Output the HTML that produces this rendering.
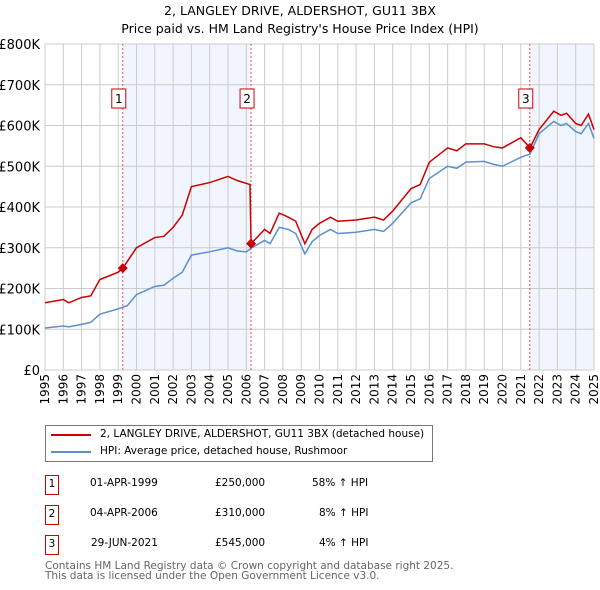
<!DOCTYPE html>
<html><head><meta charset="utf-8"><style>
body{margin:0;background:#fff;font-family:"DejaVu Sans","Liberation Sans",sans-serif;}
#wrap{position:relative;width:600px;height:590px;overflow:hidden}
svg text{font-family:"DejaVu Sans","Liberation Sans",sans-serif}
.t{position:absolute;font-size:10.5px;line-height:14px;color:#000;white-space:nowrap}
.box{position:absolute;width:14px;height:20px;border:1px solid #c00;font-size:10.5px;text-align:center;line-height:16px;box-sizing:border-box}
</style></head><body><div id="wrap">
<svg id="chart" width="600" height="420" style="position:absolute;left:0;top:0"></svg>
<div style="position:absolute;left:45px;top:425px;width:388px;height:37px;border:1px solid #777;box-sizing:border-box">
 <div><div style="position:absolute;left:5px;top:8px;width:40px;height:2px;background:#c00"></div><span class="t" style="left:54px;top:1px">2, LANGLEY DRIVE, ALDERSHOT, GU11 3BX (detached house)</span></div>
 <div><div style="position:absolute;left:5px;top:25px;width:40px;height:2px;background:#5b8fd0"></div><span class="t" style="left:54px;top:18px">HPI: Average price, detached house, Rushmoor</span></div>
</div>
<div>
 <div class="box" style="left:45px;top:475px">1</div>
 <span class="t" style="left:90px;top:476px">01-APR-1999</span><span class="t" style="left:215px;top:476px">£250,000</span><span class="t" style="left:312px;top:476px">58% ↑ HPI</span>
 <div class="box" style="left:45px;top:505px">2</div>
 <span class="t" style="left:90px;top:506px">04-APR-2006</span><span class="t" style="left:215px;top:506px">£310,000</span><span class="t" style="left:319px;top:506px">8% ↑ HPI</span>
 <div class="box" style="left:45px;top:535px">3</div>
 <span class="t" style="left:91px;top:536px">29-JUN-2021</span><span class="t" style="left:215px;top:536px">£545,000</span><span class="t" style="left:319px;top:536px">4% ↑ HPI</span>
</div>
<div style="position:absolute;left:45px;top:561px;font-size:10.5px;color:#666;line-height:10px">Contains HM Land Registry data © Crown copyright and database right 2025.<br>This data is licensed under the Open Government Licence v3.0.</div>
</div>
<script>
const years=[1995,1996,1997,1998,1999,2000,2001,2002,2003,2004,2005,2006,2007,2008,2009,2010,2011,2012,2013,2014,2015,2016,2017,2018,2019,2020,2021,2022,2023,2024,2025];
const yTicks=[0,100000,200000,300000,400000,500000,600000,700000,800000];
const yTickLabels=["£0","£100K","£200K","£300K","£400K","£500K","£600K","£700K","£800K"];
const hpiT=[1995,1996,1996.3,1997,1997.5,1998,1999,1999.5,2000,2001,2001.5,2002,2002.5,2003,2004,2005,2005.5,2006,2006.3,2007,2007.3,2007.8,2008.3,2008.7,2009.2,2009.6,2010,2010.6,2011,2012,2013,2013.5,2014,2015,2015.5,2016,2017,2017.5,2018,2019,2019.5,2020,2021,2021.5,2022,2022.8,2023.2,2023.5,2024,2024.3,2024.7,2025];
const hpiV=[103000,108000,106000,112000,117000,137000,150000,158000,185000,205000,208000,225000,240000,282000,290000,300000,292000,290000,300000,318000,310000,350000,345000,335000,285000,315000,330000,345000,335000,338000,345000,340000,360000,410000,420000,470000,500000,495000,510000,512000,505000,500000,522000,530000,580000,610000,600000,605000,585000,580000,605000,568000];
const ppT=[1995,1996,1996.3,1997,1997.5,1998,1999,1999.25,2000,2001,2001.5,2002,2002.5,2003,2004,2005,2005.5,2006.2,2006.26,2007,2007.3,2007.8,2008.3,2008.7,2009.2,2009.6,2010,2010.6,2011,2012,2013,2013.5,2014,2015,2015.5,2016,2017,2017.5,2018,2019,2019.5,2020,2021,2021.5,2022,2022.8,2023.2,2023.5,2024,2024.3,2024.7,2025];
const ppV=[165000,173000,165000,178000,182000,222000,240000,250000,300000,325000,328000,350000,380000,450000,460000,475000,465000,455000,310000,345000,335000,385000,375000,365000,310000,345000,360000,375000,365000,368000,375000,368000,390000,445000,455000,510000,545000,538000,555000,555000,548000,545000,570000,545000,590000,635000,625000,630000,605000,600000,628000,590000];
const saleT=[1999.25,2006.26,2021.49];
const saleV=[250000,310000,545000];
const saleLabels=["1","2","3"];
const NS="http://www.w3.org/2000/svg";
const svg=document.getElementById('chart');
const L=45,R=594,T=44,B=370;
const xs=t=>L+(t-1995)/30*(R-L);
const ys=v=>B-v/800000*(B-T);
function mk(tag,a,parent){const e=document.createElementNS(NS,tag);for(const k in a)e.setAttribute(k,a[k]);(parent||svg).appendChild(e);return e;}
const title=mk('text',{x:300,y:15,'text-anchor':'middle','font-size':12.5});title.textContent="2, LANGLEY DRIVE, ALDERSHOT, GU11 3BX";


const sub=mk('text',{x:300,y:33,'text-anchor':'middle','font-size':12.5});sub.textContent="Price paid vs. HM Land Registry's House Price Index (HPI)";


const sh1=mk('rect',{x:xs(saleT[0]),y:T,width:xs(saleT[1])-xs(saleT[0]),height:B-T,fill:'#eef3fc',opacity:0.8});


const sh2=mk('rect',{x:xs(saleT[2]),y:T,width:R-xs(saleT[2]),height:B-T,fill:'#eef3fc',opacity:0.8});


years.forEach(y=>{const g=mk('line',{x1:xs(y),x2:xs(y),y1:T,y2:B,stroke:'#ccc','stroke-width':1});


const tx=mk('text',{transform:`translate(${xs(y)+4},${B+4}) rotate(-90)`,'text-anchor':'end','font-size':12});tx.textContent=y;

});
yTicks.forEach((v,i)=>{const g=mk('line',{x1:L,x2:R,y1:ys(v),y2:ys(v),stroke:'#ccc','stroke-width':1});


const tx=mk('text',{x:40,y:ys(v)+5,'text-anchor':'end','font-size':13});tx.textContent=yTickLabels[i];

});
saleT.forEach((t,i)=>{const l=mk('line',{x1:xs(t),x2:xs(t),y1:T,y2:B,stroke:'#e55','stroke-width':1,'stroke-dasharray':'2,2'});

});
const hp=mk('polyline',{points:hpiT.map((t,i)=>xs(t)+','+ys(hpiV[i])).join(' '),fill:'none',stroke:'#5b8fd0','stroke-width':1.5});


const pp=mk('polyline',{points:ppT.map((t,i)=>xs(t)+','+ys(ppV[i])).join(' '),fill:'none',stroke:'#c00','stroke-width':1.5});


saleT.forEach((t,i)=>{const x=xs(t),y=ys(saleV[i]);
const d=mk('polygon',{points:`${x},${y-5} ${x+5},${y} ${x},${y+5} ${x-5},${y}`,fill:'#c00'});


const bx=mk('rect',{x:x-11,y:89,width:14,height:19,fill:'#fff',stroke:'#c00'});


const tx=mk('text',{x:x-4,y:103,'text-anchor':'middle','font-size':12});tx.textContent=saleLabels[i];

});
</script></body></html>
